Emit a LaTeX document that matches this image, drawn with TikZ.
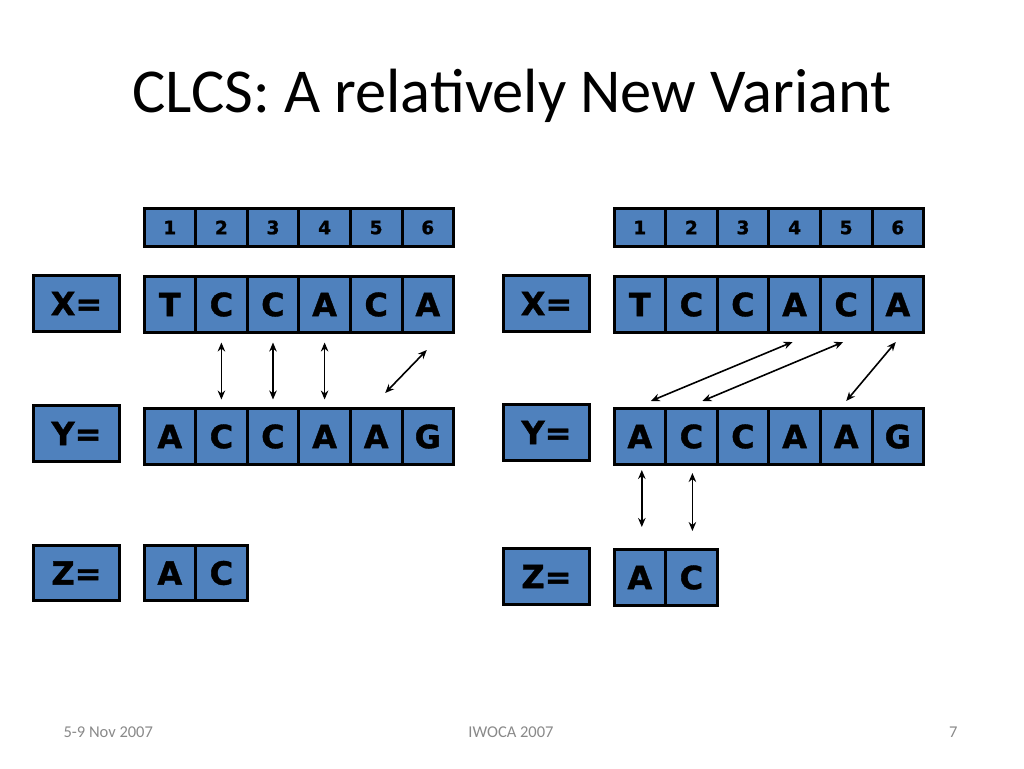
\documentclass[tikz,border=0pt]{standalone}
\usepackage{fontspec}
\setmainfont{Carlito}
\newfontfamily\cellfont[BoldFeatures={FakeBold=1.2}]{DejaVu Sans}
\usepackage{tikz}
\usetikzlibrary{arrows.meta,positioning,calc}

\definecolor{cellblue}{RGB}{79,129,189}
\definecolor{footgray}{RGB}{137,137,137}

\tikzset{
  cell/.style={draw=black,line width=3pt,fill=cellblue,inner sep=0pt,outer sep=0pt,
    minimum width=51.6pt,minimum height=56pt,font=\cellfont\bfseries\fontsize{32}{32}\selectfont},
  idx/.style={cell,minimum height=38pt,font=\cellfont\bfseries\fontsize{18.5}{18.5}\selectfont},
  lbl/.style={cell,minimum width=86pt,line width=3.5pt},
  link/.style={line width=1.6pt,{Stealth[length=9pt,width=7.5pt]}-{Stealth[length=9pt,width=7.5pt]}},
  foot/.style={text=footgray,font=\fontsize{16.5}{16.5}\selectfont}
}

\begin{document}
\begin{tikzpicture}[x=1pt,y=-1pt]
\useasboundingbox (0,0) rectangle (1024,768);
\node[anchor=base,font=\fontsize{62.5}{62.5}\selectfont] (title) at (512,112) {CLCS: A relatively New Variant};

% left panel
\foreach \n [count=\i] in {1,...,6}
  \node[idx] (li\i) at (118.2+51.6*\i,227.5) {\n};
\node[lbl] (lX) at (76.5,303.5) {X=};
\foreach \c [count=\i] in {T,C,C,A,C,A}
  \node[cell] (lx\i) at (118.2+51.6*\i,304.5) {\c};
\node[lbl] (lY) at (76.5,433.5) {Y=};
\foreach \c [count=\i] in {A,C,C,A,A,G}
  \node[cell] (ly\i) at (118.2+51.6*\i,436.5) {\c};
\node[lbl,minimum height=55pt] (lZ) at (76.5,573) {Z=};
\foreach \c [count=\i] in {A,C}
  \node[cell,minimum height=55pt] (lz\i) at (118.2+51.6*\i,573) {\c};

\foreach \i in {2,3,4}
  \draw[link,shorten <=10pt,shorten >=9pt] (lx\i.south) -- (ly\i.north);
\draw[link] ($(lx6.south)+(-1,17.5)$) -- ($(ly5.north)+(9,-15.5)$);

% right panel
\foreach \n [count=\i] in {1,...,6}
  \node[idx] (ri\i) at (588.2+51.6*\i,227.5) {\n};
\node[lbl] (rX) at (546.5,303.5) {X=};
\foreach \c [count=\i] in {T,C,C,A,C,A}
  \node[cell] (rx\i) at (588.2+51.6*\i,304.5) {\c};
\node[lbl] (rY) at (546.5,432.5) {Y=};
\foreach \c [count=\i] in {A,C,C,A,A,G}
  \node[cell] (ry\i) at (588.2+51.6*\i,436.5) {\c};
\node[lbl,minimum height=56pt] (rZ) at (546.5,576.5) {Z=};
\foreach \c [count=\i] in {A,C}
  \node[cell,minimum height=56pt] (rz\i) at (588.2+51.6*\i,577.5) {\c};

\draw[link] ($(rx4.south)+(-2,9.5)$) -- ($(ry1.north)+(11,-7.5)$);
\draw[link] ($(rx5.south)+(-3,9.5)$) -- ($(ry2.north)+(11,-7.5)$);
\draw[link] ($(rx6.south)+(-2,9.5)$) -- ($(ry5.north)+(0,-7.5)$);
\draw[link] ($(ry1.south)+(2,5.5)$) -- ($(rz1.north)+(2,-22.5)$);
\draw[link] ($(ry2.south)+(1,8.5)$) -- ($(rz2.north)+(1,-18.5)$);

% footer
\node[foot,anchor=base west] (date) at (60,737) {5-9 Nov 2007};
\node[foot,anchor=base] (conf) at (511,737) {IWOCA 2007};
\node[foot,anchor=base east] (page) at (961,737) {7};
\end{tikzpicture}
\end{document}
